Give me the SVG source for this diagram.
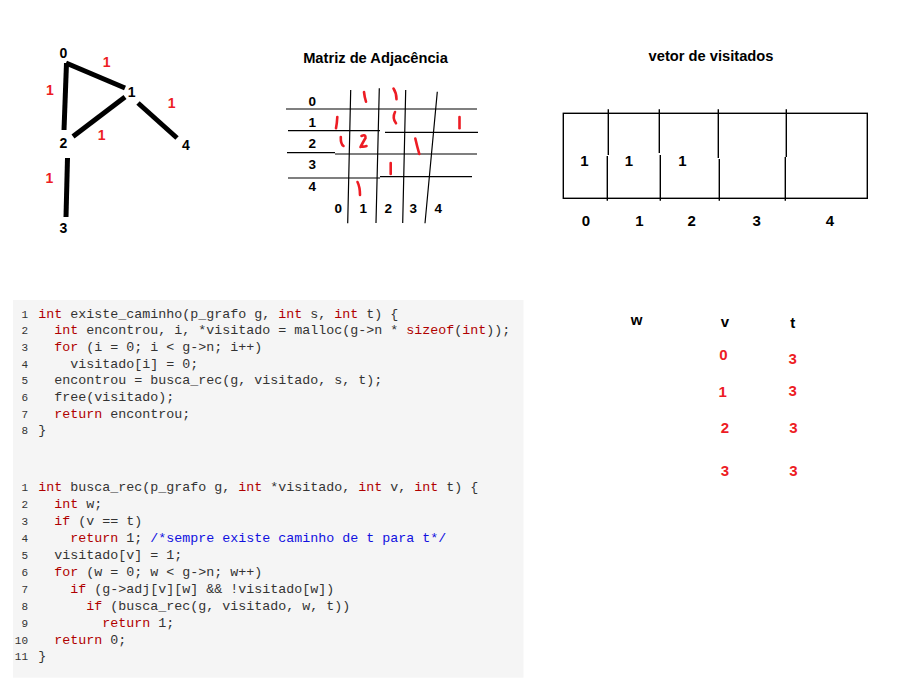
<svg xmlns="http://www.w3.org/2000/svg" width="902" height="700" viewBox="0 0 902 700">
<style>
.lbl{font-family:"Liberation Sans",Arial,sans-serif;font-weight:bold;font-size:14px;fill:#000;text-anchor:middle}
.red{fill:#ed1c24}
.ttl{font-family:"Liberation Sans",Arial,sans-serif;font-weight:bold;font-size:14.7px;fill:#000;text-anchor:middle}
.edge{stroke:#000;stroke-width:5;stroke-linecap:butt;fill:none}
.grid{stroke:#000;stroke-width:1.2;fill:none}
.mark{stroke:#ed1c24;stroke-width:2.6;stroke-linecap:round;fill:none}
.code{font-family:"Liberation Mono","Courier New",monospace;font-size:13.33px;fill:#333;white-space:pre}
.ln{font-family:"Liberation Mono","Courier New",monospace;font-size:11px;fill:#333;text-anchor:end}
.kw{fill:#b00000}
.cm{fill:#1010e0}
</style>
<rect width="902" height="700" fill="#fff"/>

<!-- Graph -->
<g id="connectors">
<line class="edge" x1="66" y1="63" x2="125" y2="88"/>
<line class="edge" x1="66.5" y1="63" x2="64" y2="130"/>
<line class="edge" x1="73" y1="136.5" x2="125" y2="97"/>
<line class="edge" x1="138" y1="103" x2="177" y2="138"/>
<line class="edge" x1="67.5" y1="158" x2="66" y2="217"/>
</g>
<g id="edge-weights">
<text class="lbl red" x="106.7" y="66.7">1</text>
<text class="lbl red" x="50" y="95">1</text>
<text class="lbl red" x="171.7" y="108.3">1</text>
<text class="lbl red" x="101.7" y="140">1</text>
<text class="lbl red" x="49.3" y="183.3">1</text>
</g>
<g id="node-0"><text class="lbl" x="63.5" y="58">0</text></g>
<g id="node-1"><text class="lbl" x="131.7" y="96.7">1</text></g>
<g id="node-2"><text class="lbl" x="63.3" y="148.3">2</text></g>
<g id="node-3"><text class="lbl" x="63.3" y="233.3">3</text></g>
<g id="node-4"><text class="lbl" x="186" y="150">4</text></g>

<!-- Adjacency matrix -->
<g id="matrix">
<text class="ttl" x="375.5" y="62.5">Matriz de Adjacência</text>
<g class="lbl" style="font-size:13.5px">
<text x="312.3" y="106">0</text>
<text x="312.3" y="126.7">1</text>
<text x="312.3" y="148.3">2</text>
<text x="312.3" y="169.3">3</text>
<text x="312.3" y="191">4</text>
<text x="338.3" y="213.3">0</text>
<text x="363.3" y="213.3">1</text>
<text x="388.3" y="213.3">2</text>
<text x="413.3" y="213.3">3</text>
<text x="438.3" y="213.3">4</text>
</g>
<path class="grid" d="M286 109H477 M288 130.7H380 M385 132.3H478 M287 152.7H335 M335 154H477 M288 178H380 M380 176.7H472"/>
<path class="grid" d="M350.7 90L347.7 223.3 M379.3 88.3L376 223 M405.7 90L402.7 223 M437.3 91.7L425 223.3"/>
<path class="mark" d="M364 92Q364.5 97 366 101.7"/>
<path class="mark" d="M393.5 88.5Q396.5 93 396.5 99.3"/>
<path class="mark" d="M337.3 117Q337 123 336 128.3"/>
<path class="mark" d="M395 112Q392 118 396 123.3"/>
<path class="mark" d="M459.5 117V128.3"/>
<path class="mark" d="M340.8 137Q340.5 144 343.5 146"/>
<path class="mark" d="M361.5 136Q366 134 365.5 138Q362 144 360.5 147M361 146.5Q364 147 366.5 146"/>
<path class="mark" d="M415.3 138.5Q417 146 419.3 154"/>
<path class="mark" d="M390.7 163V174"/>
<path class="mark" d="M357.5 182Q360 187 360 195"/>
</g>

<!-- Visited vector -->
<g id="vector">
<text class="ttl" x="711" y="61">vetor de visitados</text>
<rect x="563.3" y="113.3" width="304" height="85" fill="none" stroke="#000" stroke-width="1.4"/>
<path class="grid" style="stroke-width:1.4" d="M608.3 109.3V155 M607.3 156V200.7 M659.3 109.3V153 M660.3 155V200.7 M718.3 109.3V158 M719.3 159V200.7 M786.3 109.3V157 M785.3 157V200.7"/>
<g class="lbl" style="font-size:15px">
<text x="584.3" y="166">1</text>
<text x="629" y="166">1</text>
<text x="682.3" y="166">1</text>
<text x="586" y="226.3">0</text>
<text x="639.3" y="226.3">1</text>
<text x="691.7" y="226.3">2</text>
<text x="756.7" y="226.3">3</text>
<text x="830" y="226.3">4</text>
</g>
</g>

<!-- Trace table -->
<g id="trace-table">
<g class="lbl" style="font-size:15px">
<text x="636.7" y="325">w</text>
<text x="725" y="327.3">v</text>
<text x="792.7" y="328.3">t</text>
</g>
<g class="lbl red" style="font-size:15px">
<text x="723.3" y="360">0</text>
<text x="792.7" y="364">3</text>
<text x="722.7" y="396.7">1</text>
<text x="792.7" y="396">3</text>
<text x="725" y="432.7">2</text>
<text x="793.3" y="432.7">3</text>
<text x="725" y="475.7">3</text>
<text x="793.3" y="475.7">3</text>
</g>
</g>

<!-- Code panel -->
<g id="code">
<rect x="13" y="300" width="510.5" height="377.7" fill="#f5f5f5"/>
<g id="code-existe-caminho">
<text class="ln" x="28" y="317.5">1</text>
<text class="ln" x="28" y="334.2">2</text>
<text class="ln" x="28" y="350.9">3</text>
<text class="ln" x="28" y="367.6">4</text>
<text class="ln" x="28" y="384.3">5</text>
<text class="ln" x="28" y="401">6</text>
<text class="ln" x="28" y="417.7">7</text>
<text class="ln" x="28" y="434.4">8</text>
<text class="code" x="38.3" y="317.5"><tspan class="kw">int</tspan> existe_caminho(p_grafo g, <tspan class="kw">int</tspan> s, <tspan class="kw">int</tspan> t) {</text>
<text class="code" x="54.3" y="334.2"><tspan class="kw">int</tspan> encontrou, i, *visitado = malloc(g-&gt;n * <tspan class="kw">sizeof</tspan>(<tspan class="kw">int</tspan>));</text>
<text class="code" x="54.3" y="350.9"><tspan class="kw">for</tspan> (i = 0; i &lt; g-&gt;n; i++)</text>
<text class="code" x="70.3" y="367.6">visitado[i] = 0;</text>
<text class="code" x="54.3" y="384.3">encontrou = busca_rec(g, visitado, s, t);</text>
<text class="code" x="54.3" y="401">free(visitado);</text>
<text class="code" x="54.3" y="417.7"><tspan class="kw">return</tspan> encontrou;</text>
<text class="code" x="38.3" y="434.4">}</text>
</g>
<g id="code-busca-rec">
<text class="ln" x="28" y="491">1</text>
<text class="ln" x="28" y="507.9">2</text>
<text class="ln" x="28" y="524.9">3</text>
<text class="ln" x="28" y="541.8">4</text>
<text class="ln" x="28" y="558.8">5</text>
<text class="ln" x="28" y="575.7">6</text>
<text class="ln" x="28" y="592.6">7</text>
<text class="ln" x="28" y="609.6">8</text>
<text class="ln" x="28" y="626.5">9</text>
<text class="ln" x="28" y="643.5">10</text>
<text class="ln" x="28" y="660.4">11</text>
<text class="code" x="38.3" y="491"><tspan class="kw">int</tspan> busca_rec(p_grafo g, <tspan class="kw">int</tspan> *visitado, <tspan class="kw">int</tspan> v, <tspan class="kw">int</tspan> t) {</text>
<text class="code" x="54.3" y="507.9"><tspan class="kw">int</tspan> w;</text>
<text class="code" x="54.3" y="524.9"><tspan class="kw">if</tspan> (v == t)</text>
<text class="code" x="70.3" y="541.8"><tspan class="kw">return</tspan> 1; <tspan class="cm">/*sempre existe caminho de t para t*/</tspan></text>
<text class="code" x="54.3" y="558.8">visitado[v] = 1;</text>
<text class="code" x="54.3" y="575.7"><tspan class="kw">for</tspan> (w = 0; w &lt; g-&gt;n; w++)</text>
<text class="code" x="70.3" y="592.6"><tspan class="kw">if</tspan> (g-&gt;adj[v][w] &amp;&amp; !visitado[w])</text>
<text class="code" x="86.3" y="609.6"><tspan class="kw">if</tspan> (busca_rec(g, visitado, w, t))</text>
<text class="code" x="102.3" y="626.5"><tspan class="kw">return</tspan> 1;</text>
<text class="code" x="54.3" y="643.5"><tspan class="kw">return</tspan> 0;</text>
<text class="code" x="38.3" y="660.4">}</text>
</g>
</g>
</svg>
